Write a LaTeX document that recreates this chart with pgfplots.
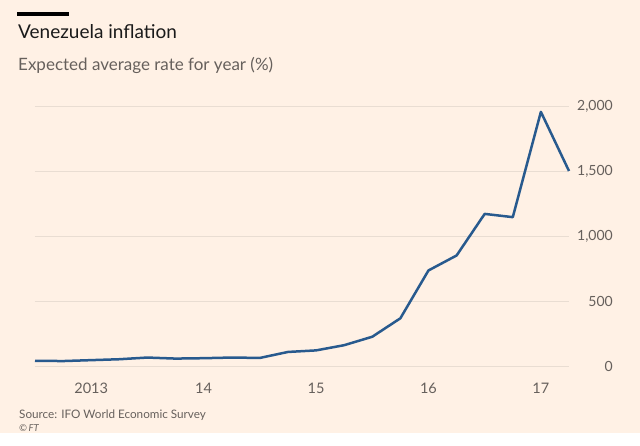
\documentclass[border=0pt]{standalone}
\usepackage{pgfplots}
\pgfplotsset{compat=1.18}
\usepackage{fontspec}
\setmainfont{Lato}
\definecolor{ftbg}{HTML}{FFF1E5}
\definecolor{ftgrid}{HTML}{E9DDD2}
\definecolor{fttext}{HTML}{66605C}
\definecolor{fttick}{HTML}{B8ADA4}
\definecolor{ftline}{HTML}{285A8E}
\definecolor{fttitle}{HTML}{1A1A1A}
\begin{document}
\begin{tikzpicture}[x=1pt,y=1pt]
\useasboundingbox (0,0) rectangle (640,446);
\fill[ftbg] (0,0) rectangle (640,446);
\fill[white] (0,0) rectangle (640,13);
\fill[black] (17,429.7) rectangle (69,433.7);
\node[anchor=base west, inner sep=0, text=fttitle, font=\fontsize{19}{22}\selectfont] at (18,407) {Venezuela inflation};
\node[anchor=base west, inner sep=0, text=fttext, font=\fontsize{17}{20}\selectfont] at (18,375.3) {Expected average rate for year (\%)};
\node[anchor=base west, inner sep=0, text=fttext, font=\fontsize{11.7}{14}\selectfont] at (19,27.7) {Source: IFO World Economic Survey};
\node[anchor=base west, inner sep=0, text=fttext, font=\fontsize{9.5}{11}\itshape] at (19,14.3) {\textcopyright\,FT};
\begin{axis}[
  at={(35pt,80pt)}, anchor=south west,
  scale only axis, width=534pt, height=260pt,
  xmin=2013, xmax=2017.75, ymin=0, ymax=2000,
  axis line style={draw=none},
  ytick={0,500,1000,1500,2000},
  ymajorgrids, grid style={ftgrid, line width=0.8pt},
  yticklabel pos=right,
  y tick style={draw=none},
  yticklabel style={anchor=east, inner sep=0pt, xshift=44pt, text=fttext, font=\fontsize{14}{16}\selectfont},
  /pgf/number format/.cd, 1000 sep={,}, assume math mode=true,
  /pgfplots/.cd,
  xtick={2013.5,2014.5,2015.5,2016.5,2017.5},
  xticklabels={2013,14,15,16,17},
  x tick style={draw=none},
  xticklabel style={anchor=north, inner sep=0pt, yshift=-17pt, text=fttext, font=\fontsize{14.5}{16}\selectfont},
  extra x ticks={2013,2014,2015,2016,2017},
  extra x tick labels={},
  extra x tick style={major tick length=13pt, tick align=outside, tick style={draw=fttick, line width=0.8pt}},
  clip=false,
]
\addplot[ftline, line width=2.5pt, line join=round] coordinates {
(2013.00,40) (2013.25,38) (2013.50,45) (2013.75,52)
(2014.00,65) (2014.25,57) (2014.50,60) (2014.75,65)
(2015.00,62) (2015.25,108) (2015.50,120) (2015.75,160)
(2016.00,225) (2016.25,367) (2016.50,735) (2016.75,850)
(2017.00,1170) (2017.25,1145) (2017.50,1955) (2017.75,1500)
};
\end{axis}
\end{tikzpicture}
\end{document}
